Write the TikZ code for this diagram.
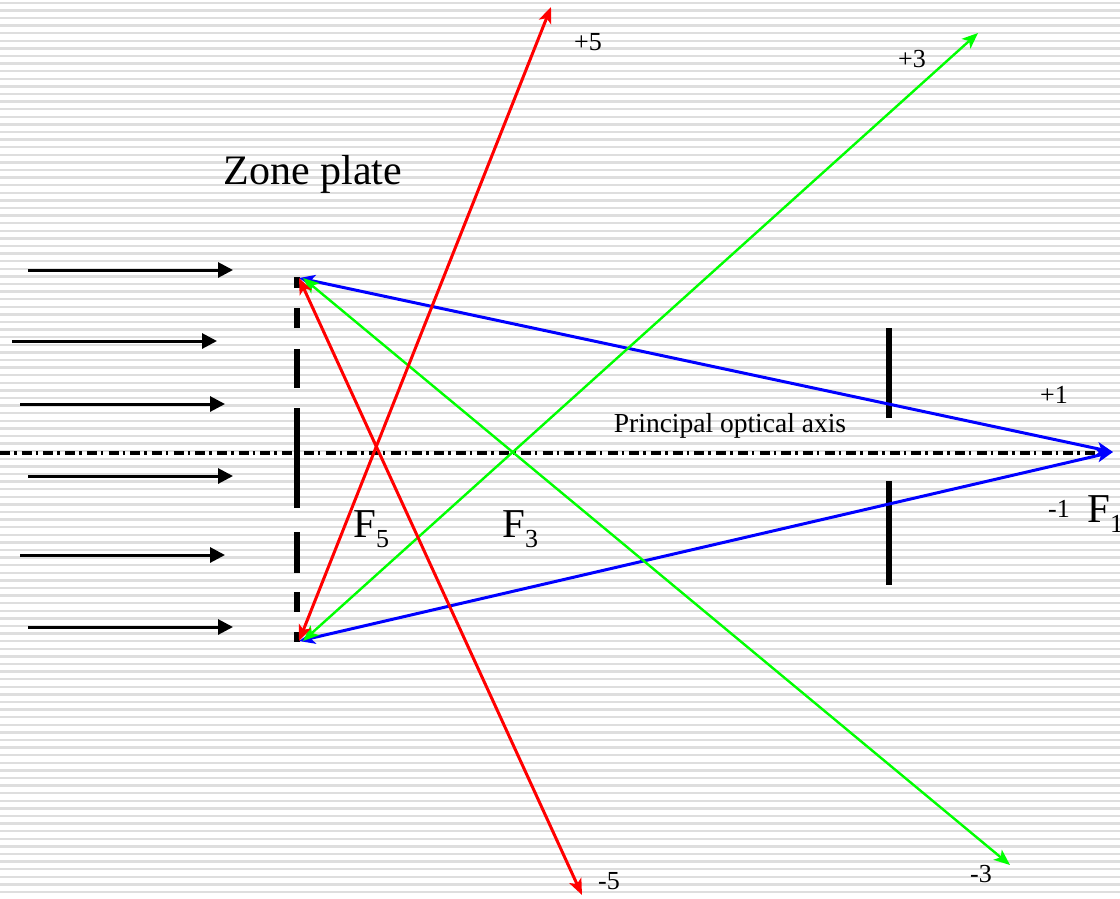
\documentclass[tikz,border=0pt]{standalone}
\usepackage{fontspec}
\setmainfont{Liberation Serif}
\usetikzlibrary{arrows.meta}
\definecolor{stripegray}{RGB}{222,222,222}
\definecolor{rayred}{RGB}{255,0,0}
\definecolor{raygreen}{RGB}{0,255,0}
\definecolor{rayblue}{RGB}{0,0,255}
\begin{document}
\begin{tikzpicture}[x=1pt,y=-1pt,
  stripe/.style={stripegray,line width=2.4pt},
  tipc/.tip={Stealth[length=16pt,width=13pt,inset=4pt]},
  ray/.style={line width=3pt,tipc-tipc},
  inray/.style={line width=3pt,-{Triangle[length=15pt,width=15pt]}},
  axisline/.style={line width=3.6pt,dash pattern=on 10pt off 4pt on 2.5pt off 5.2pt},
  zp/.style={line width=6pt},
  lbl/.style={inner sep=0pt,anchor=base,font=\fontsize{26}{26}\selectfont},
  big/.style={inner sep=0pt,anchor=base west,font=\fontsize{41}{41}\selectfont}]
\fill[white] (0,0) rectangle (1120,898);
\useasboundingbox (0,0) rectangle (1120,898);
\foreach \i in {0,...,117} \draw[stripe] (0,2.7+7.6*\i) -- (1120,2.7+7.6*\i);

% incoming plane wave
\foreach \n/\xa/\xb/\yy in {1/28/233/270,2/12/217/341,3/20/225/404,4/28/233/476,5/20/225/555,6/28/233/627}{
  \coordinate (in\n s) at (\xa,\yy);
  \coordinate (in\n e) at (\xb,\yy);
  \draw[inray] (in\n s) -- (in\n e);
}

% principal optical axis
\coordinate (axL) at (0,453);
\coordinate (axR) at (1108,453);
\draw[axisline] (axL) -- (axR);

% zone plate
\foreach \n/\ya/\yb in {1/277/288,2/308/328,3/349/388,4/408/508,5/532/573,6/592/612,7/632/642}{
  \coordinate (zp\n a) at (297,\ya);
  \coordinate (zp\n b) at (297,\yb);
  \draw[zp] (zp\n a) -- (zp\n b);
}

% aperture bars
\coordinate (b1a) at (889,328); \coordinate (b1b) at (889,418);
\coordinate (b2a) at (889,481); \coordinate (b2b) at (889,585);
\draw[zp] (b1a) -- (b1b);
\draw[zp] (b2a) -- (b2b);

% endpoints
\coordinate (T) at (299,278);
\coordinate (B) at (299,641);
\coordinate (F1) at (1113,452);
\coordinate (p5) at (551,7);
\coordinate (m5) at (582,895);
\coordinate (p3) at (978,33);
\coordinate (m3) at (1010,865);

% rays
\draw[ray,rayblue] (T) -- (F1);
\draw[ray,rayblue] (B) -- (F1);
\draw[ray,raygreen,line width=2.4pt] ([xshift=4pt]T) -- (m3);
\draw[ray,raygreen,line width=2.4pt] ([xshift=4pt]B) -- (p3);
\draw[ray,rayred] (T) -- (m5);
\draw[ray,rayred] (B) -- (p5);

% labels
\node[inner sep=0pt,anchor=base,font=\fontsize{42}{42}\selectfont] (title) at (313,184) {Zone plate};
\node[inner sep=0pt,anchor=base,font=\fontsize{27.5}{27.5}\selectfont] (axlbl) at (730,432) {Principal optical axis};
\node[lbl] (lp5) at (588,50) {+5};
\node[lbl] (lp3) at (912,67) {+3};
\node[lbl] (lm5) at (609,889) {-5};
\node[lbl] (lm3) at (981,882) {-3};
\node[lbl] (lp1) at (1054,403) {+1};
\node[lbl] (lm1) at (1059,517) {-1};
\node[big] (f5) at (353,537) {F\lower10pt\hbox{\fontsize{26}{26}\selectfont 5}};
\node[big] (f3) at (502,537) {F\lower10pt\hbox{\fontsize{26}{26}\selectfont 3}};
\node[big] (f1) at (1087,522) {F\lower10pt\hbox{\fontsize{26}{26}\selectfont 1}};
\end{tikzpicture}
\end{document}
